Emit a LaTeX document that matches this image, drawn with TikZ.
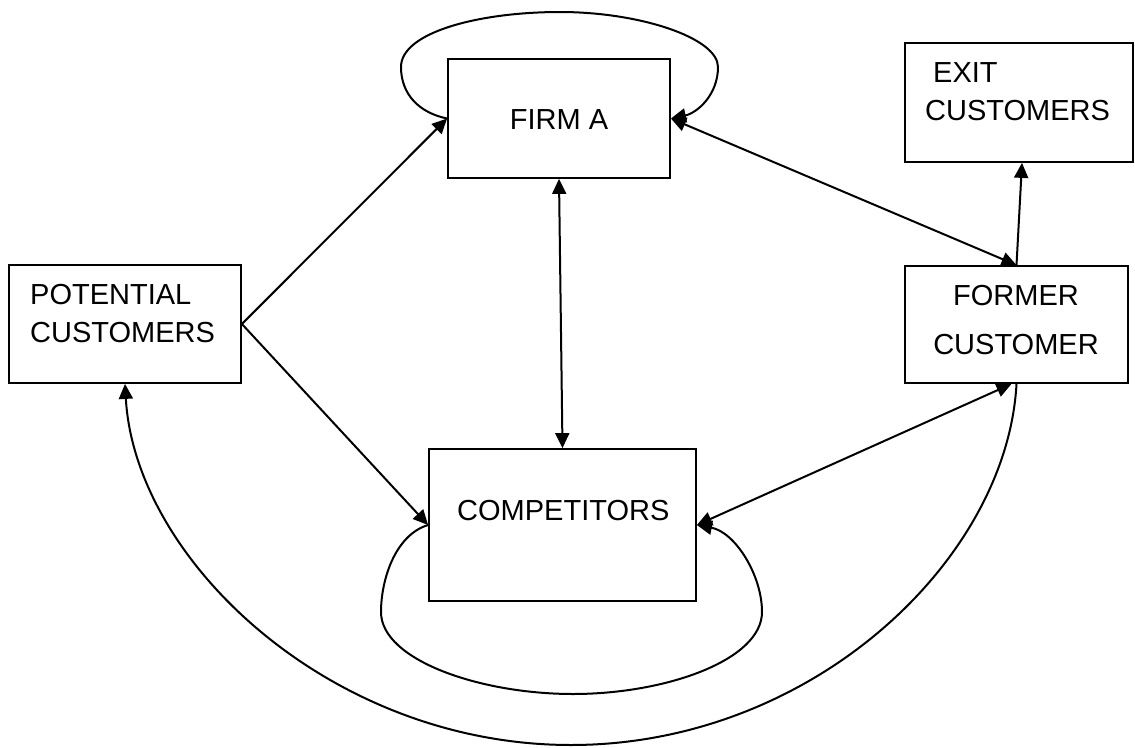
\documentclass[tikz,border=0pt]{standalone}
\usepackage{fontspec}
\setmainfont{Liberation Sans}
\usetikzlibrary{arrows.meta,calc}

\begin{document}
\begin{tikzpicture}[x=1pt,y=-1pt,
  box/.style={draw=black,line width=1.8pt,inner sep=0pt,fill=none},
  lbl/.style={inner sep=0pt,font=\fontsize{29}{34}\selectfont},
  conn/.style={line width=2pt,line cap=round},
  >={Triangle[length=15pt,width=14pt]}]
\useasboundingbox (0,0) rectangle (1135,747);

% boxes
\node[box,minimum width=222pt,minimum height=119pt] (firm) at (559,118.5) {};
\node[box,minimum width=228pt,minimum height=119pt] (exit) at (1019,102.5) {};
\node[box,minimum width=223pt,minimum height=117pt] (former) at (1016.5,324.5) {};
\node[box,minimum width=232pt,minimum height=118pt] (pot) at (125,324) {};
\node[box,minimum width=267pt,minimum height=152pt] (comp) at (562.5,525) {};

% labels
\node[lbl,anchor=base] (tfirm) at (559,129) {FIRM A};
\node[lbl,anchor=base west] (texit1) at (933,82) {EXIT};
\node[lbl,anchor=base west] (texit2) at (925,120) {CUSTOMERS};
\node[lbl,anchor=base] (tformer1) at (1016,305) {FORMER};
\node[lbl,anchor=base] (tformer2) at (1016,354) {CUSTOMER};
\node[lbl,anchor=base west] (tpot1) at (30,304) {POTENTIAL};
\node[lbl,anchor=base west] (tpot2) at (30,342) {CUSTOMERS};
\node[lbl,anchor=base west] (tcomp) at (457,520) {COMPETITORS};

% straight connectors
\draw[conn,->] (pot.east) -- (firm.west);
\draw[conn,->] (pot.east) -- (comp.west);
\draw[conn,<->] (firm.south) -- (comp.north);
\draw[conn,<->] (firm.east) -- (former.north);
\draw[conn,->] (former.north) -- ([xshift=3pt]exit.south);
\draw[conn,<->] ([xshift=-5pt]former.south) -- (comp.east);

% self loop on FIRM A
\draw[conn,->] (firm.west) .. controls (420,113) and (401,95) .. (401,67)
  .. controls (401,32) and (480,12) .. (560,12)
  .. controls (640,12) and (718,38) .. (718,67)
  .. controls (718,95) and (697,113) .. (firm.east);

% self loop on COMPETITORS
\draw[conn,->] (comp.west) .. controls (395,535) and (381,580) .. (381,612)
  .. controls (381,660) and (480,694) .. (573,694)
  .. controls (666,694) and (762,660) .. (762,612)
  .. controls (762,575) and (735,532) .. (comp.east);

% return path from FORMER CUSTOMER to POTENTIAL CUSTOMERS
\draw[conn,->] (former.south) .. controls (1007,560) and (812,745) .. (571,745)
  .. controls (330,745) and (135,560) .. (pot.south);
\end{tikzpicture}
\end{document}
